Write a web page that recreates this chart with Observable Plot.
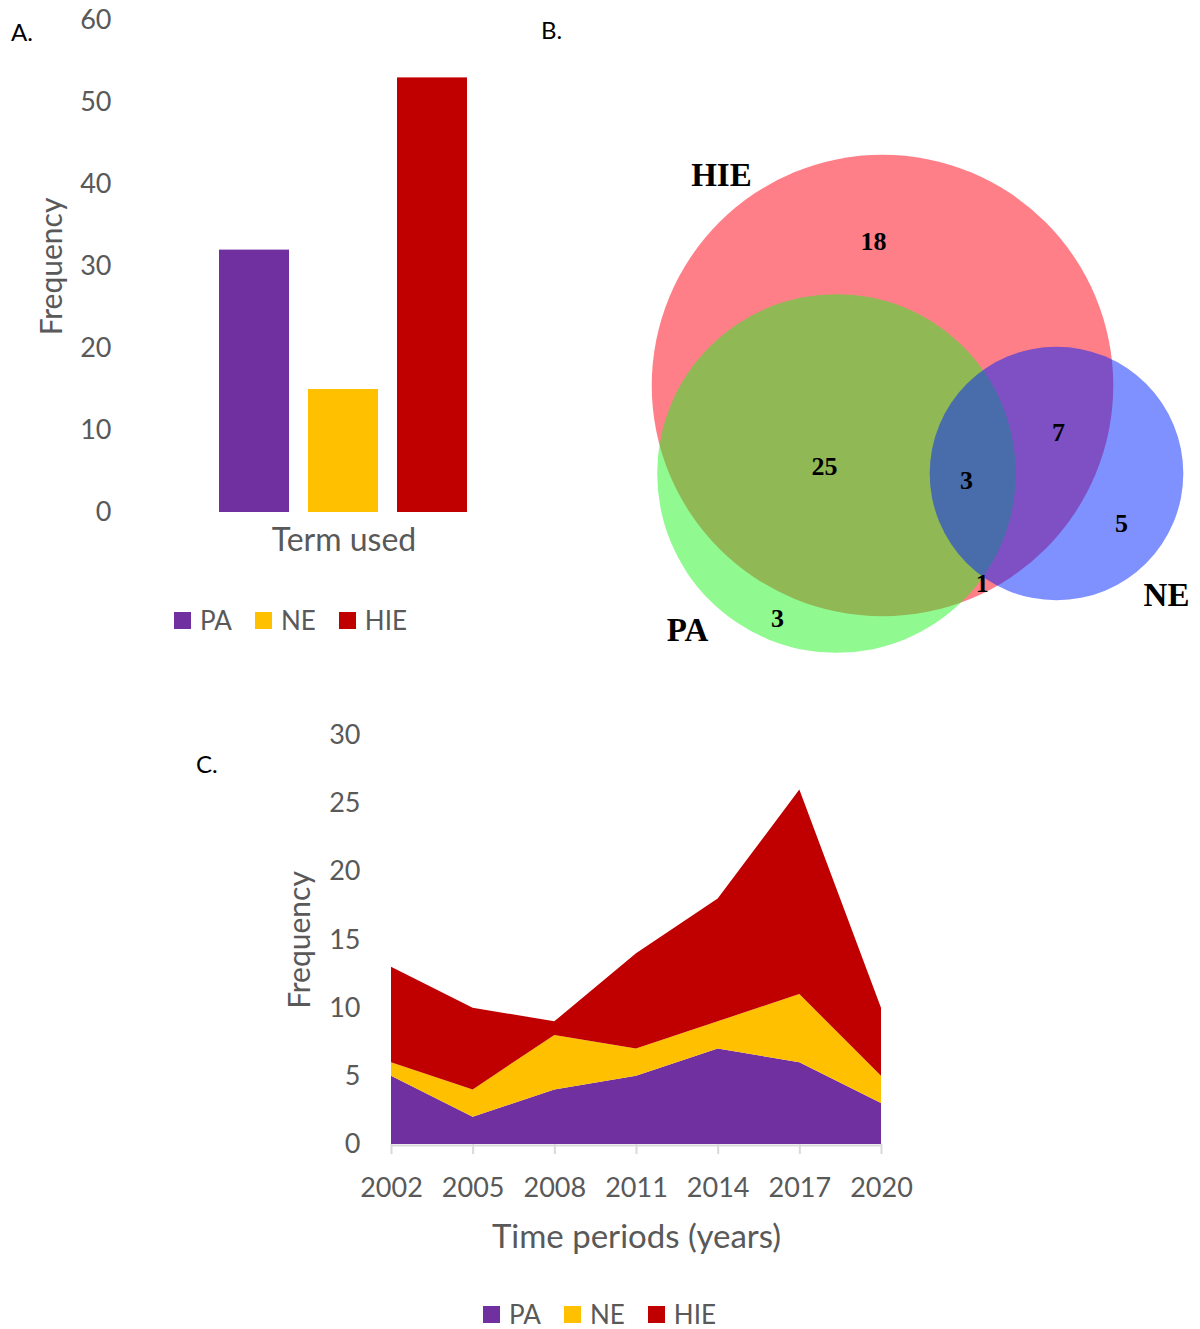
<!DOCTYPE html>
<html>
<head>
<meta charset="utf-8">
<script src="https://cdn.jsdelivr.net/npm/d3@7"></script>
<script src="https://cdn.jsdelivr.net/npm/@observablehq/plot@0.6"></script>
<style>
  html, body { margin: 0; padding: 0; background: #fff; }
  #root { position: relative; width: 1200px; height: 1329px; overflow: hidden; font-family: Lato, "Open Sans", sans-serif; }
  .letter { position: absolute; font-size: 24px; color: #000; }
  .legend { position: absolute; display: flex; align-items: center; font-size: 26px; color: #595959; white-space: nowrap; }
  .legend .sw { display: inline-block; width: 17px; height: 17px; margin-right: 9px; }
  .legend .item { display: inline-flex; align-items: center; margin-right: 23px; }
</style>
</head>
<body>
<div id="root"></div>
<script>
// ---------- data ----------
const terms = ["PA", "NE", "HIE"];
const termColors = ["#7030A0", "#FFC000", "#C00000"];
const termCounts = [32, 15, 53];
const yTicksA = [0, 10, 20, 30, 40, 50, 60];

const years = [2002, 2005, 2008, 2011, 2014, 2017, 2020];
const seriesPA = [5, 2, 4, 5, 7, 6, 3];
const seriesNE = [1, 2, 4, 2, 2, 5, 2];
const seriesHIE = [7, 6, 1, 7, 9, 15, 5];
const yTicksC = [0, 5, 10, 15, 20, 25, 30];

// Venn: set sizes (sum of their regions) and region counts
const vennSets = ["HIE", "PA", "NE"];
const vennSetSizes = [53, 32, 16];
const vennRegionCounts = [18, 25, 3, 7, 5, 1, 3];
// Venn layout (in radius units: circle radius = sqrt(set size))
const vennCenterX = [0, -1.451, 5.489];
const vennCenterY = [0, -2.776, -2.776];
const vennRegionX = [-0.28, -1.83, 2.65, 5.55, 7.54, 3.15, -3.31];
const vennRegionY = [4.54, -2.56, -3.00, -1.48, -4.35, -6.25, -7.35];
const vennNameX = [-5.08, -6.15, 8.96];
const vennNameY = [6.62, -7.73, -6.62];
const vennColors = ["#FF0011", "#21F321", "#0021FF"];

// ---------- build tables ----------
const barData = terms.map((t, i) => ({term: t, count: termCounts[i]}));
const areaData = [];
[seriesPA, seriesNE, seriesHIE].forEach((s, k) => {
  years.forEach((y, i) => areaData.push({term: terms[k], year: y, count: s[i]}));
});
const vennCircles = vennSets.map((s, i) => ({set: s, size: vennSetSizes[i], x: vennCenterX[i], y: vennCenterY[i], lx: vennNameX[i], ly: vennNameY[i]}));
const vennRegions = vennRegionCounts.map((c, i) => ({count: c, x: vennRegionX[i], y: vennRegionY[i]}));

const root = document.getElementById("root");
const grey = "#595959";
const font = "Lato, 'Open Sans', sans-serif";

function place(el, left, top) {
  el.style.position = "absolute";
  el.style.left = left + "px";
  el.style.top = top + "px";
  root.appendChild(el);
}
function letter(txt, left, top) {
  const d = document.createElement("div");
  d.className = "letter"; d.textContent = txt;
  d.style.left = left + "px"; d.style.top = top + "px";
  root.appendChild(d);
}
function legend(left, top) {
  const d = document.createElement("div");
  d.className = "legend";
  terms.forEach((t, i) => {
    const it = document.createElement("span"); it.className = "item";
    const sw = document.createElement("span"); sw.className = "sw"; sw.style.background = termColors[i];
    const tx = document.createElement("span"); tx.textContent = t;
    it.appendChild(sw); it.appendChild(tx); d.appendChild(it);
  });
  d.style.left = left + "px"; d.style.top = top + "px";
  root.appendChild(d);
}

// ---------- Panel A ----------
const plotA = Plot.plot({
  width: 480, height: 560,
  marginTop: 20, marginBottom: 48, marginLeft: 218, marginRight: 11,
  style: {fontFamily: font, fontSize: "27px", color: grey, background: "transparent", overflow: "visible"},
  x: {domain: terms, paddingInner: 0.211, paddingOuter: 0, axis: null},
  y: {domain: [0, 60]},
  color: {domain: terms, range: termColors},
  marks: [
    Plot.barY(barData, {x: "term", y: "count", fill: "term"}),
    Plot.axisY({ticks: yTicksA, tickSize: 0, tickPadding: 107, label: null, fontSize: 27, fill: grey}),
    Plot.text(["Term used"], {frameAnchor: "bottom", lineAnchor: "middle", textAnchor: "middle", dy: 28, fontSize: 32, fill: grey}),
    Plot.text(["Frequency"], {frameAnchor: "left", lineAnchor: "middle", textAnchor: "middle", rotate: -90, dx: -166, fontSize: 30, fill: grey})
  ]
});
place(plotA, 0, 0);

// ---------- Panel B (Venn) ----------
const pxPerUnit = 31.7;
const plotB = Plot.plot({
  width: 600, height: 580,
  marginTop: 0, marginBottom: 0, marginLeft: 0, marginRight: 0,
  style: {background: "transparent", overflow: "visible"},
  x: {domain: [-282 / pxPerUnit, 318 / pxPerUnit], axis: null},
  y: {domain: [-295 / pxPerUnit, 285 / pxPerUnit], axis: null},
  r: {type: "sqrt", domain: [0, 53], range: [0, pxPerUnit * Math.sqrt(53)]},
  color: {domain: vennSets, range: vennColors},
  marks: [
    Plot.dot(vennCircles, {x: "x", y: "y", r: "size", fill: "set", fillOpacity: 0.5, stroke: null}),
    Plot.text(vennRegions, {x: "x", y: "y", text: d => String(d.count), fontFamily: "'Liberation Serif', 'DejaVu Serif', serif", fontWeight: "bold", fontSize: 26, fill: "#000"}),
    Plot.text(vennCircles, {x: "lx", y: "ly", text: "set", fontFamily: "'Liberation Serif', 'DejaVu Serif', serif", fontWeight: "bold", fontSize: 33, fill: "#000"})
  ]
});
place(plotB, 600, 100);

// ---------- Panel C ----------
const plotC = Plot.plot({
  width: 1200, height: 570,
  marginTop: 35, marginBottom: 126, marginLeft: 391, marginRight: 319,
  style: {fontFamily: font, fontSize: "27px", color: grey, background: "transparent", overflow: "visible"},
  x: {domain: [2002, 2020]},
  y: {domain: [0, 30]},
  color: {domain: terms, range: termColors},
  marks: [
    Plot.areaY(areaData, {x: "year", y: "count", fill: "term", z: "term"}),
    Plot.ruleY([0], {stroke: "#D9D9D9", strokeWidth: 2, dy: 1}),
    Plot.axisX({ticks: years, tickFormat: d => String(d), tickSize: 10, tickPadding: 23, stroke: "#D9D9D9", strokeWidth: 2, fill: grey, fontSize: 27, label: null}),
    Plot.axisY({ticks: yTicksC, tickSize: 0, tickPadding: 31, label: null, fontSize: 27, fill: grey}),
    Plot.text(["Frequency"], {frameAnchor: "left", lineAnchor: "middle", textAnchor: "middle", rotate: -90, dx: -91, fontSize: 30, fill: grey}),
    Plot.text(["Time periods (years)"], {frameAnchor: "bottom", lineAnchor: "middle", textAnchor: "middle", dy: 93, fontSize: 33, fill: grey})
  ]
});
place(plotC, 0, 700);

// ---------- letters & legends ----------
letter("A.", 11, 17);
letter("B.", 541, 15);
letter("C.", 196, 749);
legend(174, 604);
legend(483, 1298);
</script>
</body>
</html>
